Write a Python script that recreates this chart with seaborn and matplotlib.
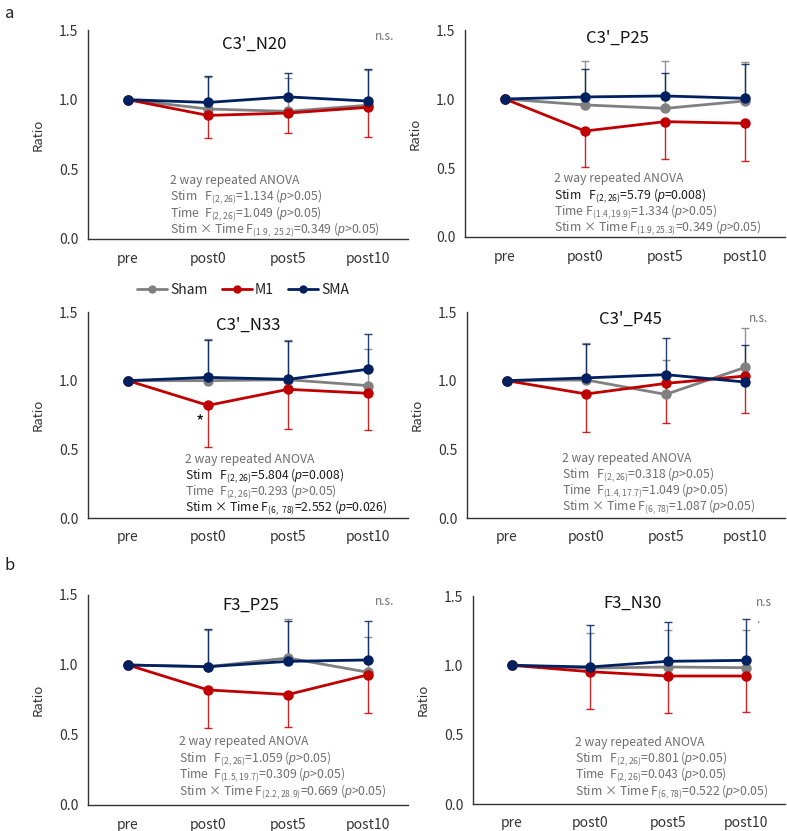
import matplotlib
matplotlib.use('Agg')
import pandas as pd
import matplotlib.pyplot as plt
from matplotlib.lines import Line2D
import seaborn as sns

# Datos (ratio respecto a pre)
tiempos = ['pre', 'post0', 'post5', 'post10']
grupos = ['Sham', 'M1', 'SMA']
colores = {'Sham': '#808080', 'M1': '#c00000', 'SMA': '#002060'}

# C3'_N20
n20_sham = [1.0, 0.933, 0.916, 0.960]
n20_m1 = [1.0, 0.887, 0.904, 0.945]
n20_sma = [1.0, 0.980, 1.020, 0.990]
n20_sham_sd = [0, 0.23, 0.24, 0.25]
n20_m1_sd = [0, 0.16, 0.14, 0.21]
n20_sma_sd = [0, 0.19, 0.17, 0.23]

# C3'_P25
p25_sham = [1.0, 0.957, 0.932, 0.986]
p25_m1 = [1.0, 0.768, 0.836, 0.824]
p25_sma = [1.0, 1.015, 1.022, 1.005]
p25_sham_sd = [0, 0.32, 0.34, 0.28]
p25_m1_sd = [0, 0.26, 0.27, 0.27]
p25_sma_sd = [0, 0.20, 0.17, 0.25]

# C3'_N33
n33_sham = [1.0, 1.000, 1.007, 0.964]
n33_m1 = [1.0, 0.820, 0.937, 0.908]
n33_sma = [1.0, 1.024, 1.010, 1.083]
n33_sham_sd = [0, 0.30, 0.29, 0.27]
n33_m1_sd = [0, 0.30, 0.29, 0.27]
n33_sma_sd = [0, 0.27, 0.28, 0.26]

# C3'_P45
p45_sham = [1.0, 1.005, 0.900, 1.097]
p45_m1 = [1.0, 0.903, 0.980, 1.034]
p45_sma = [1.0, 1.020, 1.044, 0.990]
p45_sham_sd = [0, 0.27, 0.25, 0.29]
p45_m1_sd = [0, 0.28, 0.29, 0.27]
p45_sma_sd = [0, 0.25, 0.27, 0.27]

# F3_P25
f3p25_sham = [1.0, 0.988, 1.050, 0.948]
f3p25_m1 = [1.0, 0.822, 0.789, 0.930]
f3p25_sma = [1.0, 0.988, 1.026, 1.036]
f3p25_sham_sd = [0, 0.26, 0.28, 0.25]
f3p25_m1_sd = [0, 0.27, 0.23, 0.27]
f3p25_sma_sd = [0, 0.27, 0.29, 0.28]

# F3_N30
f3n30_sham = [1.0, 0.980, 0.988, 0.983]
f3n30_m1 = [1.0, 0.954, 0.923, 0.923]
f3n30_sma = [1.0, 0.988, 1.029, 1.036]
f3n30_sham_sd = [0, 0.25, 0.27, 0.27]
f3n30_m1_sd = [0, 0.27, 0.27, 0.26]
f3n30_sma_sd = [0, 0.30, 0.28, 0.30]

GRIS = '#6e6e6e'
NEGRO = '#1a1a1a'
NS = r'($\mathit{p}$>$\mathit{0.05}$)'
NS2 = r'($\mathit{p}$>0.05)'

sns.set_theme(style='white')
plt.rcParams['font.family'] = ['Noto Sans CJK JP', 'DejaVu Sans']
plt.rcParams['mathtext.fontset'] = 'custom'
plt.rcParams['mathtext.rm'] = 'Noto Sans CJK JP'
plt.rcParams['mathtext.it'] = 'Liberation Sans:italic'
plt.rcParams['mathtext.bf'] = 'Noto Sans CJK JP:bold'

fig = plt.figure(figsize=(7.87, 8.31), dpi=100)
W, H = 787, 831


def ejes(x0, x1, y0, y1):
    return fig.add_axes([x0 / W, 1 - y1 / H, (x1 - x0) / W, (y1 - y0) / H])


def panel(ax, titulo, medias, sds, lineas, pos_texto, pos_titulo, ns=None):
    filas = []
    for g, m in zip(grupos, medias):
        for t, v in zip(tiempos, m):
            filas.append({'tiempo': t, 'ratio': v, 'grupo': g})
    df = pd.DataFrame(filas)

    # barras de error (Sham y SMA hacia arriba, M1 hacia abajo)
    for g, m, s in zip(grupos, medias, sds):
        idx = [i for i in range(1, len(tiempos))]
        ys = [m[i] for i in idx]
        err = [s[i] for i in idx]
        if g == 'M1':
            yerr = [err, [0] * len(err)]
        else:
            yerr = [[0] * len(err), err]
        ax.errorbar(idx, ys, yerr=yerr, fmt='none', ecolor=colores[g],
                    elinewidth=1.0, capsize=3, capthick=1.0, zorder=1, alpha=0.85)

    sns.pointplot(data=df, x='tiempo', y='ratio', hue='grupo', order=tiempos,
                  hue_order=grupos, palette=colores, errorbar=None, markers='o',
                  markersize=6, linewidth=2.0, legend=False, ax=ax)

    ax.set_xlim(-0.5, 3.5)
    ax.set_ylim(0, 1.5)
    ax.set_yticks([0, 0.5, 1.0, 1.5])
    ax.set_yticklabels(['0.0', '0.5', '1.0', '1.5'])
    ax.set_xticks(range(len(tiempos)))
    ax.set_xticklabels(tiempos)
    ax.set_xticks([0.5, 1.5, 2.5], minor=True)
    ax.tick_params(axis='x', which='major', length=0, pad=9, labelsize=10, colors='#333333')
    ax.tick_params(axis='x', which='minor', direction='in', length=4, width=1, color='#333333')
    ax.tick_params(axis='y', direction='out', length=4, width=1, color='#333333',
                   labelsize=10, labelcolor='#333333', pad=3)
    ax.set_xlabel('')
    ax.set_ylabel('Ratio', fontsize=9.5, color='#333333', labelpad=10)
    for lado in ['top', 'right']:
        ax.spines[lado].set_visible(False)
    for lado in ['left', 'bottom']:
        ax.spines[lado].set_color('#333333')
        ax.spines[lado].set_linewidth(1.0)

    ax.text(pos_titulo[0], pos_titulo[1], titulo, ha='center', va='center',
            fontsize=12, color='#111111')
    # texto del ANOVA, de abajo hacia arriba con paso fijo
    x, y0 = pos_texto
    for k, (texto, color) in enumerate(lineas):
        y = y0 + 0.118 * (len(lineas) - 1 - k)
        ax.text(x, y, texto, ha='left', va='baseline', fontsize=8.8, color=color)
    if ns is not None:
        ax.text(ns[0], ns[1], ns[2], ha='left', va='center', fontsize=8.5, color=GRIS)


# a
ax1 = ejes(88, 408, 30, 239)
panel(ax1, "C3'_N20", [n20_sham, n20_m1, n20_sma], [n20_sham_sd, n20_m1_sd, n20_sma_sd],
      [('2 way repeated ANOVA', GRIS),
       (r'Stim   F$_{(2,26)}$=1.134 ' + NS, GRIS),
       (r'Time  F$_{(2,26)}$=1.049 ' + NS, GRIS),
       (r'Stim × Time F$_{(1.9,\ 25.2)}$=0.349 ' + NS2, GRIS)],
      (0.52, 0.04), (1.58, 1.40), (3.08, 1.455, 'n.s.'))

ax2 = ejes(465, 785, 30, 237)
panel(ax2, "C3'_P25", [p25_sham, p25_m1, p25_sma], [p25_sham_sd, p25_m1_sd, p25_sma_sd],
      [('2 way repeated ANOVA', GRIS),
       (r'Stim   F$_{(2,26)}$=5.79 ($\mathit{p}$=$\mathit{0.008}$)', NEGRO),
       (r'Time F$_{(1.4,19.9)}$=1.334 ' + NS, GRIS),
       (r'Stim × Time F$_{(1.9,25.3)}$=0.349 ' + NS2, GRIS)],
      (0.61, 0.041), (1.40, 1.44))

ax3 = ejes(88, 408, 312, 518)
panel(ax3, "C3'_N33", [n33_sham, n33_m1, n33_sma], [n33_sham_sd, n33_m1_sd, n33_sma_sd],
      [('2 way repeated ANOVA', GRIS),
       (r'Stim   F$_{(2,26)}$=5.804 ($\mathit{p}$=$\mathit{0.008}$)', NEGRO),
       (r'Time  F$_{(2,26)}$=0.293 ' + NS, GRIS),
       (r'Stim × Time F$_{(6,\ 78)}$=2.552 ($\mathit{p}$=0.026)', NEGRO)],
      (0.71, 0.049), (1.50, 1.40))
ax3.text(0.9, 0.70, '*', ha='center', va='center', fontsize=13, color='#111111')

ax4 = ejes(467, 785, 312, 518)
panel(ax4, "C3'_P45", [p45_sham, p45_m1, p45_sma], [p45_sham_sd, p45_m1_sd, p45_sma_sd],
      [('2 way repeated ANOVA', GRIS),
       (r'Stim   F$_{(2,26)}$=0.318 ' + NS, GRIS),
       (r'Time  F$_{(1.4,17.7)}$=1.049 ' + NS, GRIS),
       (r'Stim × Time F$_{(6,78)}$=1.087 ' + NS2, GRIS)],
      (0.70, 0.056), (1.55, 1.45), (3.04, 1.456, 'n.s.'))

# b
ax5 = ejes(88, 408, 595, 805)
panel(ax5, 'F3_P25', [f3p25_sham, f3p25_m1, f3p25_sma], [f3p25_sham_sd, f3p25_m1_sd, f3p25_sma_sd],
      [('2 way repeated ANOVA', GRIS),
       (r'Stim   F$_{(2,26)}$=1.059 ' + NS, GRIS),
       (r'Time  F$_{(1.5,19.7)}$=0.309 ' + NS, GRIS),
       (r'Stim × Time F$_{(2.2,28.9)}$=0.669 ' + NS2, GRIS)],
      (0.64, 0.071), (1.53, 1.425), (3.08, 1.456, 'n.s.'))

ax6 = ejes(473, 785, 596, 804)
panel(ax6, 'F3_N30', [f3n30_sham, f3n30_m1, f3n30_sma], [f3n30_sham_sd, f3n30_m1_sd, f3n30_sma_sd],
      [('2 way repeated ANOVA', GRIS),
       (r'Stim   F$_{(2,26)}$=0.801 ' + NS, GRIS),
       (r'Time  F$_{(2,26)}$=0.043 ' + NS, GRIS),
       (r'Stim × Time F$_{(6,78)}$=0.522 ' + NS2, GRIS)],
      (0.81, 0.067), (1.55, 1.45), (3.13, 1.45, 'n.s'))
ax6.text(3.13, 1.33, '.', ha='left', va='center', fontsize=8.5, color=GRIS)

fig.text(5 / W, 1 - 14 / H, 'a', fontsize=12, color='#222222', va='center')
fig.text(5 / W, 1 - 566 / H, 'b', fontsize=12, color='#222222', va='center')

manejadores = [Line2D([0], [0], color=colores[g], marker='o', markersize=5, linewidth=2.0)
               for g in grupos]
fig.legend(manejadores, grupos, loc='center', bbox_to_anchor=(243 / W, 1 - 290 / H),
           ncol=3, frameon=False, fontsize=10, handlelength=2.2, handletextpad=0.2,
           columnspacing=1.0, labelcolor='#222222')

fig.savefig('out.png', dpi=100)
